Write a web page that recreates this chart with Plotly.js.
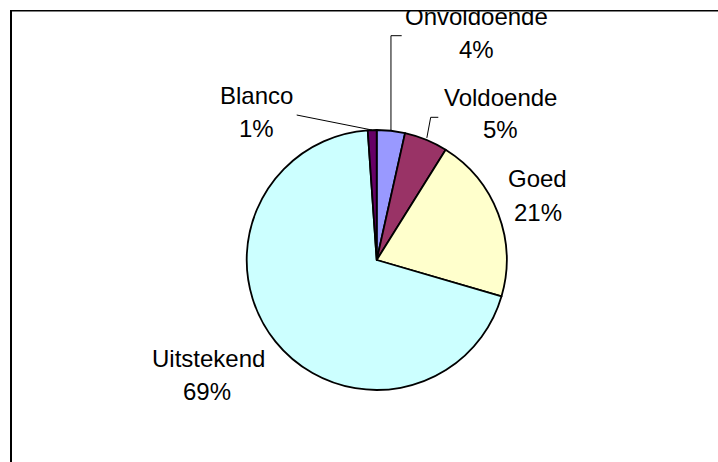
<!DOCTYPE html>
<html>
<head>
<meta charset="utf-8">
<script src="https://cdn.plot.ly/plotly-3.0.1.min.js"></script>
<style>
html,body{margin:0;padding:0;background:#fff;}
#wrap{position:relative;width:718px;height:462px;overflow:hidden;}
#chart{position:absolute;left:0;top:0;width:718px;height:462px;}
#mask{position:absolute;left:0;top:0;width:718px;height:9.5px;background:#fff;z-index:10;}
</style>
</head>
<body>
<div id="wrap"><div id="chart"></div><div id="mask"></div></div>
<script>
// ---- data ----
const categories = ["Onvoldoende", "Voldoende", "Goed", "Uitstekend", "Blanco"];
const values = [3.5, 5.4, 20.6, 69.4, 1.1];
const colors = ["#9999FF", "#993366", "#FFFFCC", "#CCFFFF", "#660066"];

// ---- layout geometry (pixels) ----
const W = 718, H = 462;
const CX = 376.7, CY = 260, R = 130;
const FS = 24;
const BASE_TO_MID = 8.3;
// label positions: [centerX, baseline line1, baseline line2, centerX line2]
const labelPos = {
  "Onvoldoende": [476.7, 25, 58, 476.7],
  "Voldoende":   [500.5, 106, 138, 500],
  "Goed":        [537.5, 186.7, 221, 537.7],
  "Uitstekend":  [208.5, 366.7, 400, 206.5],
  "Blanco":      [256.7, 104, 137, 256.7]
};

const px = x => x / W;
const py = y => 1 - y / H;

const total = values.reduce((a, b) => a + b, 0);
const annotations = [];
categories.forEach((c, i) => {
  const p = labelPos[c];
  const pct = Math.round(values[i] / total * 100) + "%";
  annotations.push({xref:"paper", yref:"paper", x:px(p[0]), y:py(p[1]-BASE_TO_MID),
    xanchor:"center", yanchor:"middle", text:c, showarrow:false,
    font:{family:"Liberation Sans, Arial, sans-serif", size:FS, color:"#000"}});
  annotations.push({xref:"paper", yref:"paper", x:px(p[3]), y:py(p[2]-BASE_TO_MID),
    xanchor:"center", yanchor:"middle", text:pct, showarrow:false,
    font:{family:"Liberation Sans, Arial, sans-serif", size:FS, color:"#000"}});
});

// mid-angle points of slices (clockwise from top)
const cum = [];
let acc = 0;
values.forEach(v => { cum.push(acc + v / 2); acc += v; });
function edgePt(i, rr) {
  const a = cum[i] / total * 2 * Math.PI;
  return [CX + rr * Math.sin(a), CY - rr * Math.cos(a)];
}
function pathStr(pts) {
  return pts.map((p, k) => (k ? "L" : "M") + px(p[0]).toFixed(5) + "," + py(p[1]).toFixed(5)).join(" ");
}
const iOn = categories.indexOf("Onvoldoende");
const iVo = categories.indexOf("Voldoende");
const iBl = categories.indexOf("Blanco");
const eOn = edgePt(iOn, R);
const eVo = edgePt(iVo, R + 2);
const eBl = edgePt(iBl, R);

const shapes = [
  {type:"path", xref:"paper", yref:"paper", path:pathStr([eOn, [eOn[0], 35.7], [401.7, 35.7]]), line:{color:"#000", width:1}},
  {type:"path", xref:"paper", yref:"paper", path:pathStr([eVo, [430.7, 117.3], [438.3, 117.3]]), line:{color:"#000", width:1}},
  {type:"path", xref:"paper", yref:"paper", path:pathStr([eBl, [296.7, 115]]), line:{color:"#000", width:1}},
  // frame
  {type:"line", xref:"paper", yref:"paper", x0:px(11), x1:px(11), y0:py(470), y1:py(9.5), line:{color:"#000", width:2}},
  {type:"line", xref:"paper", yref:"paper", x0:px(10), x1:px(730), y0:py(10.5), y1:py(10.5), line:{color:"#000", width:2}}
];

const trace = {
  type: "pie",
  labels: categories,
  values: values,
  sort: false,
  direction: "clockwise",
  rotation: 0,
  textinfo: "none",
  hoverinfo: "label+percent",
  marker: {colors: colors, line: {color: "#000", width: 1.8}},
  domain: {x: [px(CX - R), px(CX + R)], y: [py(CY + R), py(CY - R)]},
  showlegend: false
};

Plotly.newPlot("chart", [trace], {
  width: W, height: H,
  margin: {l:0, r:0, t:0, b:0},
  paper_bgcolor: "#fff",
  showlegend: false,
  annotations: annotations,
  shapes: shapes
}, {displayModeBar: false, staticPlot: true});
</script>
</body>
</html>
